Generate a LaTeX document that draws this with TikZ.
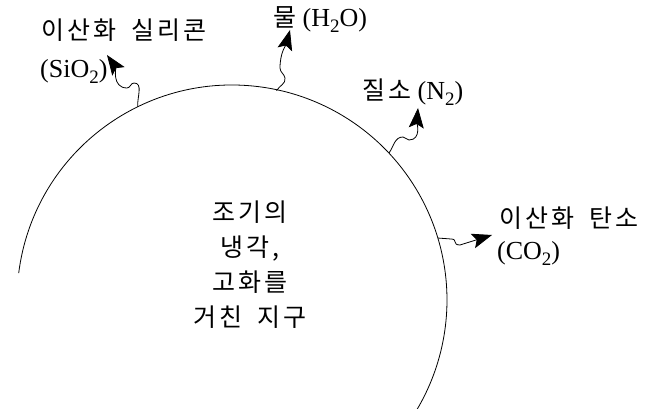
\documentclass[tikz,border=0pt]{standalone}
\usepackage{fontspec}
\setmainfont{Liberation Serif}
\newfontfamily\kr{Noto Sans CJK KR}[LetterSpace=12,WordSpace=1.8]
\newcommand\hk[1]{{\kr\fontsize{25}{28}\selectfont #1}}
\newcommand\sub[1]{\raisebox{-6pt}{\fontsize{19}{19}\selectfont #1}}
\usetikzlibrary{arrows.meta}
\begin{document}
\begin{tikzpicture}[x=1pt,y=1pt,
    gas/.style={line width=0.8pt, -{Stealth[length=20pt,width=15pt,inset=4pt]}},
    lbl/.style={inner sep=0pt, anchor=base west, font=\fontsize{26}{30}\selectfont}]
  \useasboundingbox (0,0) rectangle (659,409);
  \coordinate (c) at (232,109);
  \draw[line width=0.8pt] (c) ++(172.8:215) arc[start angle=172.8, end angle=-30.5, radius=215];
  \node[inner sep=0pt, align=center, font=\kr\fontsize{25}{35}\selectfont] (earth) at (250,144)
    {조기의\\냉각,\\고화를\\거친 지구};
  \node[lbl] (sio2name) at (41,369) {\hk{이산화 실리콘}};
  \node[lbl] (sio2) at (40,331) {(SiO\sub{2})};
  \node[lbl] (h2o) at (273,382) {\hk{물} (H\sub{2}O)};
  \node[lbl] (n2) at (362,309) {\hk{질소} (N\sub{2})};
  \node[lbl] (co2name) at (499,181) {\hk{이산화 탄소}};
  \node[lbl] (co2) at (497,149) {(CO\sub{2})};
  \path (c) ++(116:215) coordinate (sio2base);
  \path (c) ++(78:214) coordinate (h2obase);
  \path (c) ++(43.1:215) coordinate (n2base);
  \path (c) ++(16.75:215) coordinate (co2base);
  \coordinate (sio2tip) at (107,354);
  \coordinate (h2otip) at (290,379);
  \coordinate (n2tip) at (418,301);
  \coordinate (co2tip) at (492,174);
  \draw[gas] (sio2base) to[out=95,in=0] (134,326) to[out=180,in=0] (127,321)
    to[out=180,in=-55] (sio2tip);
  \draw[gas] (h2obase) to[out=60,in=-80] (285,331) to[out=100,in=-90] (280,341)
    to[out=90,in=-105] (h2otip);
  \draw[gas] (n2base) to[out=55,in=180] (403,272) to[out=0,in=180] (409,269)
    to[out=0,in=-95] (n2tip);
  \draw[gas] (co2base) -- (451,170) .. controls (458,170) and (452,164) .. (460,164)
    -- (co2tip);
\end{tikzpicture}
\end{document}
